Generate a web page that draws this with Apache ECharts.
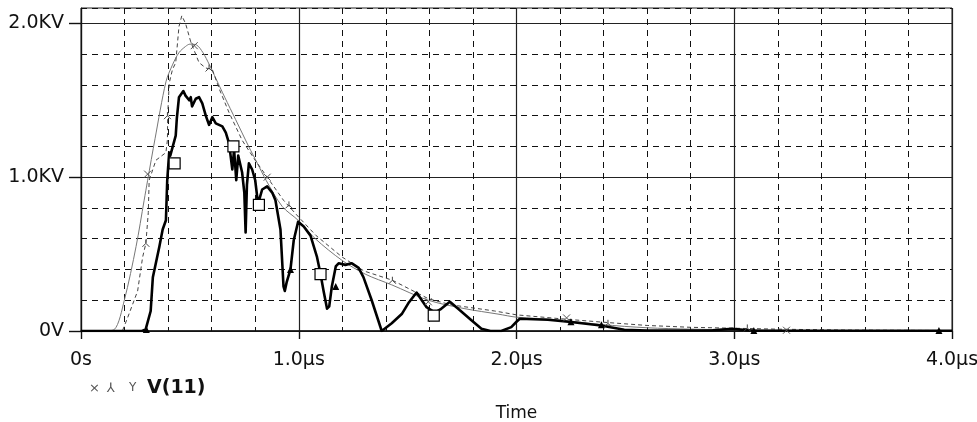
<!DOCTYPE html>
<html>
<head>
<meta charset="utf-8">
<script src="https://cdn.jsdelivr.net/npm/echarts@6/dist/echarts.min.js"></script>
<style>
  html, body { margin: 0; padding: 0; background: #fff; }
  #chart { width: 977px; height: 422px; }
</style>
</head>
<body>
<div id="chart"></div>
<script>
// V(11) transient, three traces: [time in µs, voltage in kV]
const traceSmooth = [
  [0, 0], [0.10, 0], [0.153, 0.01], [0.199, 0.2], [0.253, 0.55], [0.29, 0.85], [0.306, 0.98],
  [0.34, 1.25], [0.39, 1.62], [0.42, 1.73], [0.45, 1.81], [0.48, 1.85], [0.50, 1.865],
  [0.53, 1.86], [0.56, 1.81], [0.59, 1.73], [0.62, 1.64], [0.66, 1.52], [0.71, 1.375],
  [0.77, 1.2], [0.81, 1.09], [0.85, 0.98], [0.924, 0.81], [0.997, 0.72], [1.076, 0.60],
  [1.198, 0.46], [1.305, 0.37], [1.427, 0.30], [1.595, 0.2], [1.763, 0.145], [1.915, 0.11],
  [2.0, 0.09], [2.19, 0.073], [2.39, 0.042], [2.6, 0.021], [2.8, 0.012], [3.0, 0.008],
  [3.3, 0.004], [3.6, 0.003], [4.0, 0.002]
];

const traceDashed = [
  [0, 0], [0.17, 0], [0.19, 0.0], [0.215, 0.09], [0.26, 0.26], [0.283, 0.48], [0.298, 0.57],
  [0.309, 0.77], [0.313, 0.98], [0.344, 1.11], [0.39, 1.16], [0.397, 1.245], [0.398, 1.40],
  [0.405, 1.61], [0.42, 1.70], [0.435, 1.745], [0.45, 1.98], [0.463, 2.05], [0.48, 2.0],
  [0.504, 1.88], [0.542, 1.745], [0.573, 1.71], [0.603, 1.70], [0.636, 1.57], [0.68, 1.42],
  [0.74, 1.24], [0.80, 1.11], [0.86, 0.99], [0.93, 0.85], [1.0, 0.74], [1.08, 0.62],
  [1.2, 0.48], [1.3, 0.39], [1.43, 0.33], [1.595, 0.21], [1.7, 0.17], [1.8, 0.15],
  [1.9, 0.13], [2.0, 0.105], [2.2, 0.08], [2.39, 0.058], [2.6, 0.036], [2.8, 0.024],
  [3.0, 0.018], [3.2, 0.012], [3.5, 0.006], [4.0, 0.003]
];

const traceBold = [
  [0, 0], [0.28, 0], [0.297, 0.01], [0.32, 0.13], [0.33, 0.35], [0.36, 0.55], [0.375, 0.66],
  [0.39, 0.72], [0.396, 0.98], [0.405, 1.16], [0.41, 1.14], [0.435, 1.27], [0.44, 1.38],
  [0.45, 1.52], [0.47, 1.56], [0.48, 1.53], [0.497, 1.50], [0.504, 1.52], [0.51, 1.46],
  [0.527, 1.51], [0.542, 1.52], [0.557, 1.48], [0.573, 1.40], [0.588, 1.34], [0.603, 1.39],
  [0.619, 1.35], [0.649, 1.33], [0.665, 1.29], [0.68, 1.22], [0.687, 1.14], [0.695, 1.05],
  [0.703, 1.18], [0.713, 0.98], [0.722, 1.14], [0.74, 1.03], [0.75, 0.9], [0.756, 0.64],
  [0.762, 0.95], [0.771, 1.09], [0.786, 1.05], [0.80, 0.98], [0.812, 0.84], [0.82, 0.86],
  [0.832, 0.92], [0.855, 0.94], [0.878, 0.90], [0.893, 0.85], [0.916, 0.66], [0.93, 0.29],
  [0.936, 0.26], [0.945, 0.32], [0.962, 0.40], [0.977, 0.59], [0.997, 0.71], [1.023, 0.68],
  [1.054, 0.62], [1.084, 0.48], [1.10, 0.37], [1.114, 0.26], [1.13, 0.145], [1.14, 0.16],
  [1.152, 0.29], [1.17, 0.42], [1.183, 0.44], [1.214, 0.43], [1.244, 0.44], [1.275, 0.41],
  [1.297, 0.35], [1.335, 0.20], [1.381, 0.0], [1.427, 0.05], [1.473, 0.11], [1.503, 0.18],
  [1.541, 0.25], [1.565, 0.20], [1.587, 0.155], [1.625, 0.12], [1.65, 0.14], [1.694, 0.19],
  [1.732, 0.145], [1.793, 0.07], [1.839, 0.015], [1.88, 0], [1.93, 0], [1.976, 0.025],
  [2.0, 0.06], [2.015, 0.08], [2.144, 0.073], [2.25, 0.058], [2.388, 0.036], [2.495, 0.008],
  [2.6, 0.003], [2.9, 0.005], [2.99, 0.014], [3.09, 0.002], [3.5, 0.002], [4.0, 0.002]
];

// trace markers
const markSquares = [[0.43, 1.09], [0.70, 1.20], [0.817, 0.82], [1.10, 0.37], [1.62, 0.10]];
const markTriangles = [[0.30, 0.01], [0.962, 0.40], [1.17, 0.29], [2.25, 0.06], [2.39, 0.04], [3.09, 0.003], [3.94, 0.003]];
const markCross = [[0.306, 1.02], [0.52, 1.855], [0.855, 1.0], [1.595, 0.19], [2.23, 0.085], [3.24, 0.005]];
const markFork = [[0.298, 0.57], [0.397, 1.40], [0.588, 1.71], [0.955, 0.82], [1.43, 0.33], [2.42, 0.05], [3.06, 0.02]];

// axis ticks
const voltTicks = [0, 1, 2];

const FONT = 'DejaVu Sans';
const chart = echarts.init(document.getElementById('chart'), null, { renderer: 'canvas' });

const voltLabel = v => (v === 0 ? '0V' : v.toFixed(1) + 'KV');
const timeLabel = v => (v === 0 ? '0s' : v.toFixed(1) + 'µs');

const crossPath = 'path://M0,0L10,10M10,0L0,10';
const forkPath = 'path://M5,0L5,5L0,10M5,5L10,10';

chart.setOption({
  animation: false,
  backgroundColor: '#fff',
  grid: {
    left: 81, right: 25, top: 8, bottom: 91,
    outerBoundsMode: 'none', containLabel: false,
    show: true, borderColor: '#222', borderWidth: 1
  },
  xAxis: [
    {
      type: 'value', min: 0, max: 4, interval: 0.2,
      axisLine: { show: false }, axisTick: { show: false }, axisLabel: { show: false },
      splitLine: { show: true, lineStyle: { color: '#111', width: 1, type: [6, 5] } }
    },
    {
      type: 'value', min: 0, max: 4, interval: 1, position: 'bottom',
      name: 'Time', nameLocation: 'middle', nameGap: 74,
      nameTextStyle: { fontFamily: FONT, fontSize: 17, color: '#111' },
      axisLine: { show: true, onZero: false, lineStyle: { color: '#111', width: 1.5 } },
      axisTick: { show: true, inside: false, length: 8, lineStyle: { color: '#111', width: 1.4 } },
      axisLabel: {
        show: true, margin: 20, formatter: timeLabel,
        fontFamily: FONT, fontSize: 19, color: '#111'
      },
      splitLine: { show: true, lineStyle: { color: '#222', width: 1.2, type: 'solid' } }
    }
  ],
  yAxis: [
    {
      type: 'value', min: 0, max: 2.1, interval: 0.2,
      axisLine: { show: false }, axisTick: { show: false }, axisLabel: { show: false },
      splitLine: { show: true, lineStyle: { color: '#111', width: 1, type: [6, 5] } }
    },
    {
      type: 'value', min: 0, max: 2.1, interval: 1, position: 'left',
      axisLine: { show: true, onZero: false, lineStyle: { color: '#111', width: 1.2 } },
      axisTick: { show: true, inside: false, length: 12, customValues: voltTicks, lineStyle: { color: '#111', width: 1.4 } },
      axisLabel: {
        show: true, margin: 17, customValues: voltTicks, formatter: voltLabel,
        fontFamily: FONT, fontSize: 19, color: '#111'
      },
      splitLine: { show: true, lineStyle: { color: '#222', width: 1.2, type: 'solid' } }
    }
  ],
  series: [
    {
      name: 'smooth', type: 'line', data: traceSmooth, xAxisIndex: 0, yAxisIndex: 0,
      showSymbol: false, smooth: 0.3,
      lineStyle: { color: '#777', width: 1 }, z: 3
    },
    {
      name: 'dashed', type: 'line', data: traceDashed, xAxisIndex: 0, yAxisIndex: 0,
      showSymbol: false,
      lineStyle: { color: '#444', width: 1, type: [4, 3] }, z: 3
    },
    {
      name: 'bold', type: 'line', data: traceBold, xAxisIndex: 0, yAxisIndex: 0,
      showSymbol: false,
      lineStyle: { color: '#000', width: 2.6, join: 'round' }, z: 4
    },
    {
      name: 'squares', type: 'scatter', data: markSquares, xAxisIndex: 0, yAxisIndex: 0,
      symbol: 'rect', symbolSize: 11,
      itemStyle: { color: '#fff', borderColor: '#000', borderWidth: 1.2, opacity: 1 }, z: 6
    },
    {
      name: 'triangles', type: 'scatter', data: markTriangles, xAxisIndex: 0, yAxisIndex: 0,
      symbol: 'triangle', symbolSize: 7,
      itemStyle: { color: '#000', opacity: 1 }, z: 6
    },
    {
      name: 'cross', type: 'scatter', data: markCross, xAxisIndex: 0, yAxisIndex: 0,
      symbol: crossPath, symbolSize: 7,
      itemStyle: { color: 'transparent', borderColor: '#555', borderWidth: 1, opacity: 1 }, z: 5
    },
    {
      name: 'fork', type: 'scatter', data: markFork, xAxisIndex: 0, yAxisIndex: 0,
      symbol: forkPath, symbolSize: 7,
      itemStyle: { color: 'transparent', borderColor: '#444', borderWidth: 1, opacity: 1 }, z: 5
    }
  ],
  graphic: [
    { type: 'text', left: 89, top: 382, style: { text: '×', fontFamily: FONT, fontSize: 13, fill: '#555' } },
    { type: 'text', left: 107, top: 382, style: { text: '⅄', fontFamily: FONT, fontSize: 13, fill: '#555' } },
    { type: 'text', left: 129, top: 382, style: { text: 'Y', fontFamily: FONT, fontSize: 12, fill: '#555' } },
    {
      type: 'text', left: 147, top: 379,
      style: { text: 'V(11)', fontFamily: FONT, fontSize: 19, fontWeight: 'bold', fill: '#111' }
    }
  ]
});
</script>
</body>
</html>
